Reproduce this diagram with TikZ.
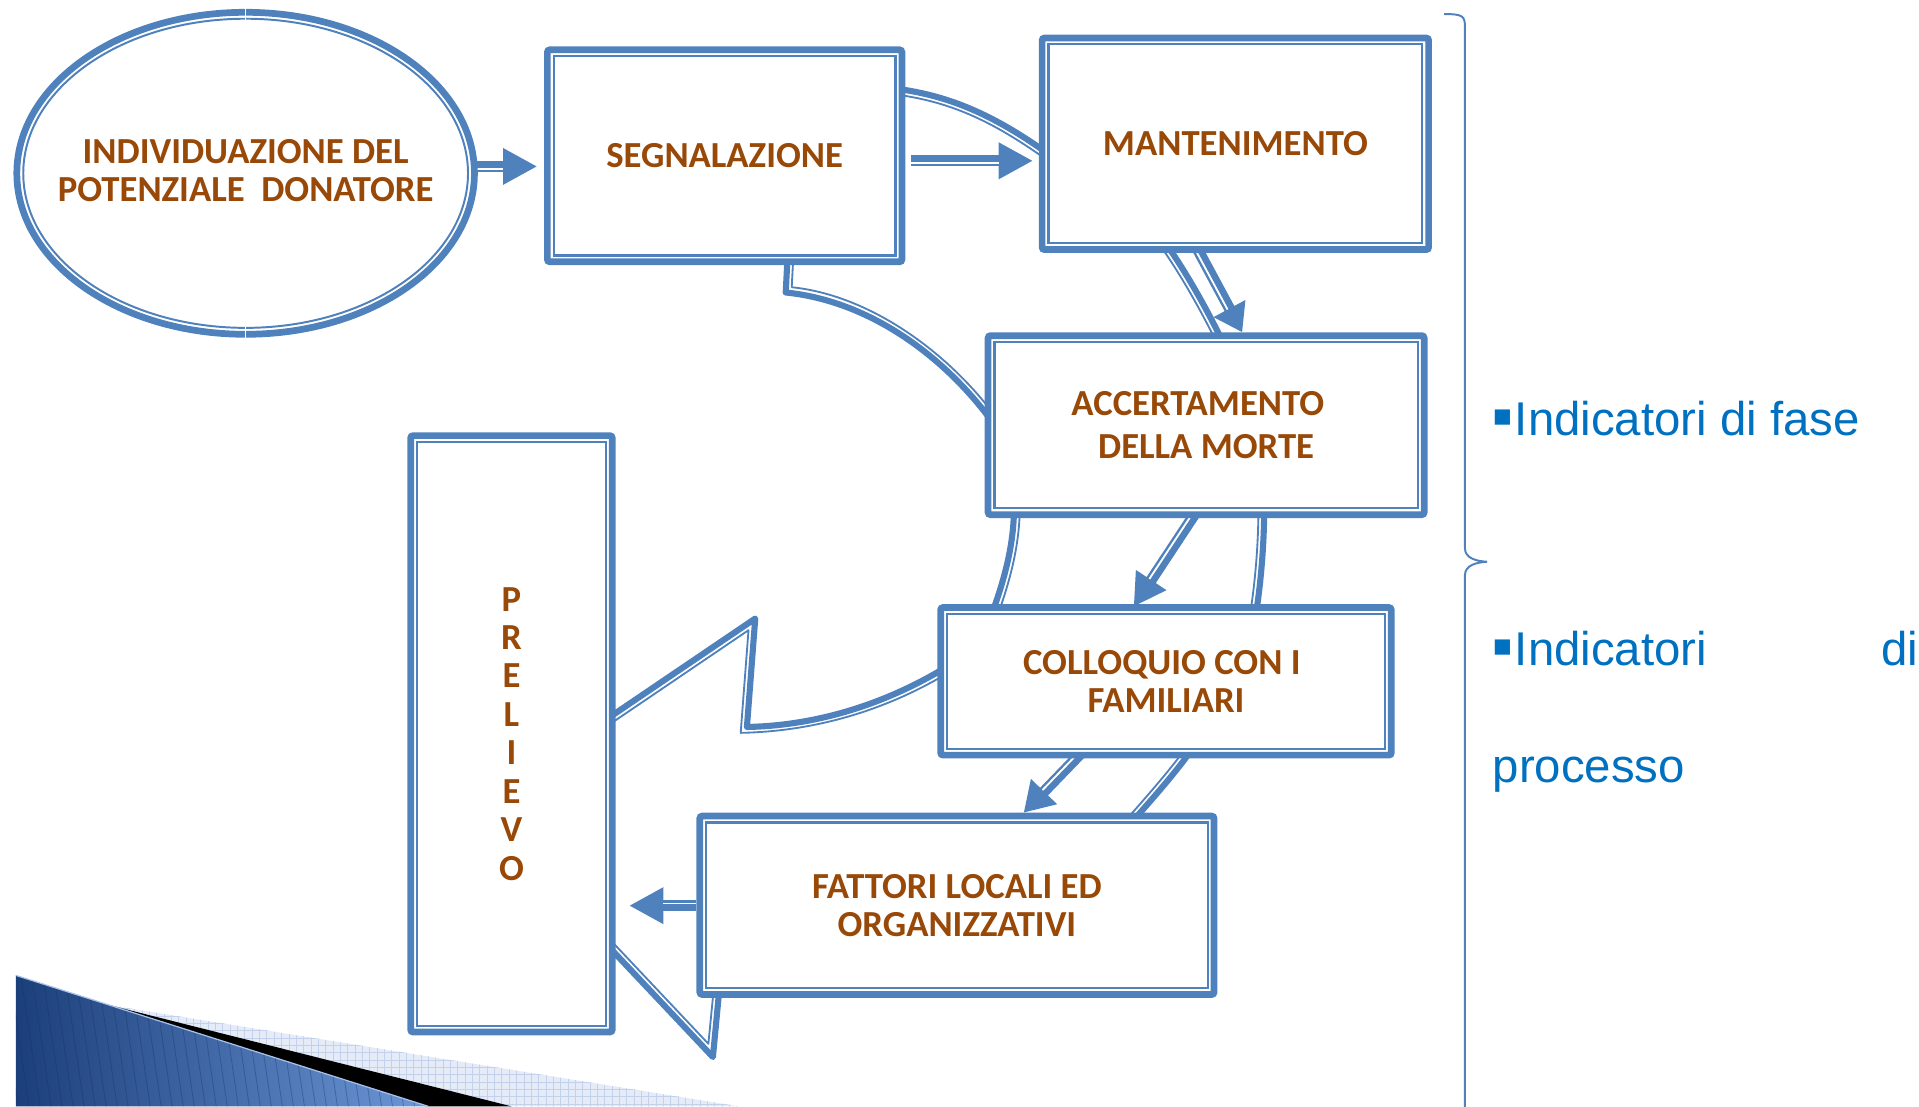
\documentclass[tikz,border=0pt]{standalone}
\usepackage{fontspec}
\setmainfont{Carlito}
\newfontfamily\arialf{Liberation Sans}
\newfontfamily\dejavuf{DejaVu Sans}
\usetikzlibrary{arrows.meta,calc,shapes.geometric}
\definecolor{bl}{HTML}{4F81BD}
\definecolor{brn}{HTML}{984807}
\definecolor{txtblue}{HTML}{0070C0}
\definecolor{navy}{HTML}{1B3F7A}
\definecolor{midblue}{HTML}{6D97D8}
\definecolor{pale}{HTML}{E6ECF7}
\definecolor{palegrid}{HTML}{C3D1EC}
\pgfdeclarelayer{background}
\pgfsetlayers{background,main}
\newcommand\blockarrow[3]{%
  \draw[bl, line width=9pt, line cap=butt, -{Triangle[length=#3,width=28pt]}] #1 -- #2;
  \draw[white, line width=1.5pt, line cap=butt, shorten >=#3] ($#1!1.75pt!-90:#2$) -- ($#2!1.75pt!90:#1$);
}
\begin{document}
\begin{tikzpicture}[x=1pt,y=-1pt,
  boxnode/.style={draw=bl, line width=5.5pt, fill=white, rounded corners=2pt, inner sep=0pt,
    font=\bfseries\fontsize{30}{31}\selectfont, text=brn, align=center,
    path picture={\draw[bl, line width=1.8pt, sharp corners]
      ([shift={(5.2pt,5.2pt)}]path picture bounding box.south west) rectangle
      ([shift={(-5.2pt,-5.2pt)}]path picture bounding box.north east);}},
  ellnode/.style={ellipse, draw=bl, line width=5.5pt, fill=white, inner sep=0pt,
    path picture={\draw[bl, line width=1.6pt] (path picture bounding box.center)
       ellipse [x radius=181.7pt, y radius=126.3pt];}},
  btxt/.style={font=\bfseries\fontsize{30}{31}\selectfont, text=brn, align=center, inner sep=0pt},
  rtxt/.style={font=\arialf\fontsize{38.7}{46}\selectfont, text=txtblue, inner sep=0pt},
  bul/.style={font=\dejavuf\fontsize{25}{25}\selectfont, text=txtblue, inner sep=0pt},
  thickl/.style={draw=bl, line width=5pt, line join=round},
  thinl/.style={draw=bl, line width=1.5pt, line join=round},
]
\useasboundingbox (0,0) rectangle (1568,904);

% decoration bottom-left
\begin{scope}
  \clip (90,821.4) -- (604,904) -- (418,904) -- cycle;
  \fill[pale] (90,821.4) -- (604,904) -- (418,904) -- cycle;
  \foreach \i in {80,86,...,610} \draw[palegrid, line width=0.5pt] (\i,815) -- (\i,906);
  \foreach \j in {818,824,...,906} \draw[palegrid, line width=0.5pt] (80,\j) -- (610,\j);
\end{scope}
\fill[black] (90,821.4) -- (418,904) -- (350,904) -- cycle;
\begin{scope}
  \clip (13,797) -- (350,904) -- (13,904) -- cycle;
  \shade[left color=navy, right color=midblue] (13,797) rectangle (350,904);
  \foreach \i in {-20,-11,...,360} \draw[navy!80!black, opacity=0.35, line width=0.7pt] (\i,790) -- (\i+17,906);
\end{scope}
\draw[midblue!60!white, line width=1pt] (13,797) -- (350,904);

% nodes
\node[ellnode, minimum width=373.9pt, minimum height=263.1pt] (ell) at (200.7,141.6) {};
\draw[white, line width=1pt] ($(ell.north)+(0,-2)$) -- ($(ell.north)+(0,14)$);
\draw[white, line width=1pt] ($(ell.south)+(0,2)$) -- ($(ell.south)+(0,-14)$);
\node[btxt] (elltxt) at (200.7,139.5) {INDIVIDUAZIONE DEL\\POTENZIALE\ \ DONATORE};
\node[boxnode, minimum width=289.7pt, minimum height=173.2pt] (seg) at (592.1,127.3) {SEGNALAZIONE};
\node[boxnode, minimum width=315.8pt, minimum height=172.9pt] (mant) at (1009.4,117.5) {MANTENIMENTO};
\node[boxnode, minimum width=356.3pt, minimum height=146.3pt] (acc) at (985.5,347.4) {ACCERTAMENTO\mbox{\ \ }\\[4pt]DELLA MORTE};
\node[boxnode, minimum width=368.2pt, minimum height=120.6pt] (coll) at (952.7,556.7) {COLLOQUIO CON I\mbox{\ }\\FAMILIARI};
\node[boxnode, minimum width=420.2pt, minimum height=145.8pt] (fatt) at (781.9,739.7) {FATTORI LOCALI ED\\ORGANIZZATIVI};
\node[boxnode, minimum width=164.7pt, minimum height=487.3pt, font=\bfseries\fontsize{30}{31.4}\selectfont] (prel) at (417.9,599.6) {P\\R\\E\\L\\I\\E\\V\\O};

\begin{pgfonlayer}{background}
 % big curved arrow outline (visible parts)
 \draw[thickl] (736,73) .. controls (777,79) and (811,94) .. (852,122.5);
 \draw[thinl] (735.3,77.7) .. controls (776.3,83.7) and (808.3,97.9) .. (849.3,126.4);
 \draw[thickl] (997,275) .. controls (985,251) and (970,224) .. (954,201);
 \draw[thinl] (992.9,277.4) .. controls (980.9,253.4) and (965.9,226.4) .. (949.9,203.4);
 \draw[thickl] (643.5,210) -- (642,239) .. controls (708,245.6) and (768,288) .. (808,341);
 \draw[thinl] (648.2,210) -- (646.9,234.7) .. controls (708.5,240.9) and (771.8,285.2) .. (811.8,338.2);
 \draw[thickl] (828.5,412) .. controls (829,445) and (820,475) .. (811,500);
 \draw[thinl] (833.2,412) .. controls (833.7,445) and (824.5,476.5) .. (815.5,501.7);
 \draw[thickl] (1026.5,500) .. controls (1031,470) and (1033,440) .. (1033,412);
 \draw[thinl] (1021.8,499.5) .. controls (1026.3,470) and (1028.3,440) .. (1028.3,412);
 \draw[thickl] (770,547) .. controls (721.4,575.8) and (666.8,592.9) .. (610.3,594) -- (617.1,505.4) -- (490,591.5);
 \draw[thinl] (772.4,551.1) .. controls (723.8,579.9) and (666.9,597.6) .. (605.2,598.8) -- (611.6,514.9) -- (493,595.3);
 \draw[thickl] (926.1,670.3) .. controls (944,650) and (964,627) .. (974,612);
 \draw[thinl] (922.4,667.3) .. controls (940.3,647) and (960.3,624) .. (970.3,609);
 \draw[thickl] (490,765.7) -- (582.5,863.7) -- (587.6,810);
 \draw[thinl] (493.4,762.4) -- (578.8,852.9) -- (583,810);

 % block arrows between nodes
 \coordinate (a1s) at ($(ell.east |- 0,136)+(-3,0)$);
 \coordinate (a1e) at ($(seg.west |- 0,136)+(-5.5,0)$);
 \coordinate (a2s) at ($(seg.east |- 0,131.4)+(5,0)$);
 \coordinate (a2e) at ($(mant.west |- 0,131.4)+(-4.7,0)$);
 \coordinate (a3s) at ($(mant.south -| 978,0)+(0,-4)$);
 \coordinate (a3e) at (acc.north -| 1015,0);
 \coordinate (a4s) at ($(acc.south -| 976.7,0)+(0,-4)$);
 \coordinate (a4e) at ($(coll.north -| 926.3,0)+(0,2)$);
 \coordinate (a5s) at ($(coll.south -| 883,0)+(0,-4)$);
 \coordinate (a5e) at (fatt.north -| 836.4,0);
 \coordinate (a6s) at (fatt.west |- 0,740);
 \coordinate (a6e) at ($(prel.east |- 0,740)+(11,0)$);
 \blockarrow{(a1s)}{(a1e)}{28pt}
 \blockarrow{(a2s)}{(a2e)}{28pt}
 \blockarrow{(a3s)}{(a3e)}{22pt}
 \blockarrow{(a4s)}{(a4e)}{26pt}
 \blockarrow{(a5s)}{(a5e)}{24pt}
 \blockarrow{(a6s)}{(a6e)}{28pt}
\end{pgfonlayer}

% right side: brace and texts
\draw[bl, line width=1.6pt] (1180,11.5) .. controls (1195,11.5) and (1197,13) .. (1197,22) -- (1197,448) .. controls (1197,456) and (1206,458.5) .. (1215,459) .. controls (1206,459.5) and (1197,462) .. (1197,470) -- (1197,910);
\node[bul] (b1) at (1227.6,341.5) {▪};
\node[rtxt, anchor=base west] (t1) at (1237.6,356) {Indicatori di fase};
\node[bul] (b2) at (1227.6,529.2) {▪};
\node[rtxt, anchor=base west] (t2) at (1237.6,543.7) {Indicatori};
\node[rtxt, anchor=base west] (t3) at (1537,543.7) {di};
\node[rtxt, anchor=base west] (t4) at (1219.5,639.4) {processo};
\end{tikzpicture}
\end{document}
